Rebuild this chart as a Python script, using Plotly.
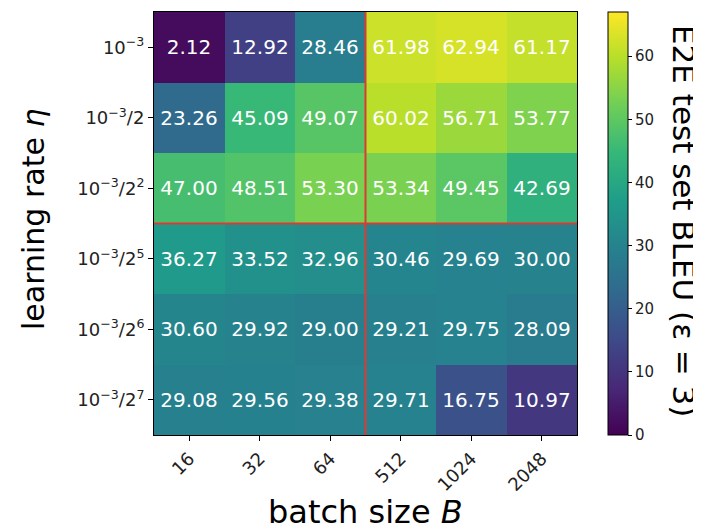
import plotly.graph_objects as go

batch_sizes = ["16", "32", "64", "512", "1024", "2048"]
learning_rates = [
    "10<sup>−3</sup>",
    "10<sup>−3</sup>/2",
    "10<sup>−3</sup>/2<sup>2</sup>",
    "10<sup>−3</sup>/2<sup>5</sup>",
    "10<sup>−3</sup>/2<sup>6</sup>",
    "10<sup>−3</sup>/2<sup>7</sup>",
]
bleu = [
    [2.12, 12.92, 28.46, 61.98, 62.94, 61.17],
    [23.26, 45.09, 49.07, 60.02, 56.71, 53.77],
    [47.00, 48.51, 53.30, 53.34, 49.45, 42.69],
    [36.27, 33.52, 32.96, 30.46, 29.69, 30.00],
    [30.60, 29.92, 29.00, 29.21, 29.75, 28.09],
    [29.08, 29.56, 29.38, 29.71, 16.75, 10.97],
]
colorbar_ticks = [0, 10, 20, 30, 40, 50, 60]

font = "DejaVu Sans"
OFF = 8  # browser default body margin
W, H = 701 - OFF, 532 - OFF
L, T = 154 - OFF, 12 - OFF
R = W - (577 - OFF)
B = H - (435 - OFF)
pw, ph = W - L - R, H - T - B


def px_x(p):
    return (p - OFF - L) / pw


def px_y(p):
    return (H - B - (p - OFF)) / ph


fig = go.Figure(go.Heatmap(
    z=bleu, x=batch_sizes, y=learning_rates,
    colorscale="Viridis", zmin=0, zmax=67,
    texttemplate="%{z:.2f}",
    textfont=dict(color="white", size=20, family=font),
    colorbar=dict(
        thickness=20, len=1, lenmode="fraction", y=0.5, yanchor="middle",
        ypad=0, x=1, xanchor="left", xpad=31, xref="paper",
        outlinecolor="black", outlinewidth=1,
        tickvals=colorbar_ticks,
        ticks="outside", ticklen=4, tickcolor="black",
        tickfont=dict(size=15, family=font, color="#222"),
    ),
))

fig.add_shape(type="line", xref="x", yref="paper", x0=2.5, x1=2.5, y0=0, y1=1,
              line=dict(color="#dc3a34", width=2))
fig.add_shape(type="line", xref="paper", yref="y", x0=0, x1=1, y0=2.5, y1=2.5,
              line=dict(color="#dc3a34", width=2))

fig.add_annotation(text="batch size <i>B</i>", xref="paper", yref="paper",
                   x=px_x(365), y=px_y(512), xanchor="center", yanchor="middle",
                   showarrow=False, font=dict(size=32, family=font, color="black"))
fig.add_annotation(text="learning rate <i>η</i>", xref="paper", yref="paper",
                   x=px_x(33), y=px_y(219), xanchor="center", yanchor="middle",
                   textangle=-90, showarrow=False,
                   font=dict(size=30, family=font, color="black"))
fig.add_annotation(text="E2E test set BLEU (ε = 3)", xref="paper", yref="paper",
                   x=px_x(684), y=px_y(221), xanchor="center", yanchor="middle",
                   textangle=90, showarrow=False,
                   font=dict(size=31, family=font, color="black"))

fig.update_layout(
    width=W, height=H,
    margin=dict(l=L, r=R, t=T, b=B),
    paper_bgcolor="white", plot_bgcolor="white",
    font=dict(family=font, color="black"),
    xaxis=dict(
        automargin=False,
        tickangle=-45, tickfont=dict(size=18, family=font, color="#222"),
        ticks="outside", ticklen=5, tickcolor="black",
        showline=True, linecolor="black", linewidth=1, mirror=True,
        showgrid=False, zeroline=False,
    ),
    yaxis=dict(
        automargin=False,
        autorange="reversed", tickfont=dict(size=18, family=font, color="#222"),
        ticks="outside", ticklen=5, tickcolor="black",
        showline=True, linecolor="black", linewidth=1, mirror=True,
        showgrid=False, zeroline=False,
    ),
)

fig.write_html("out.html")
